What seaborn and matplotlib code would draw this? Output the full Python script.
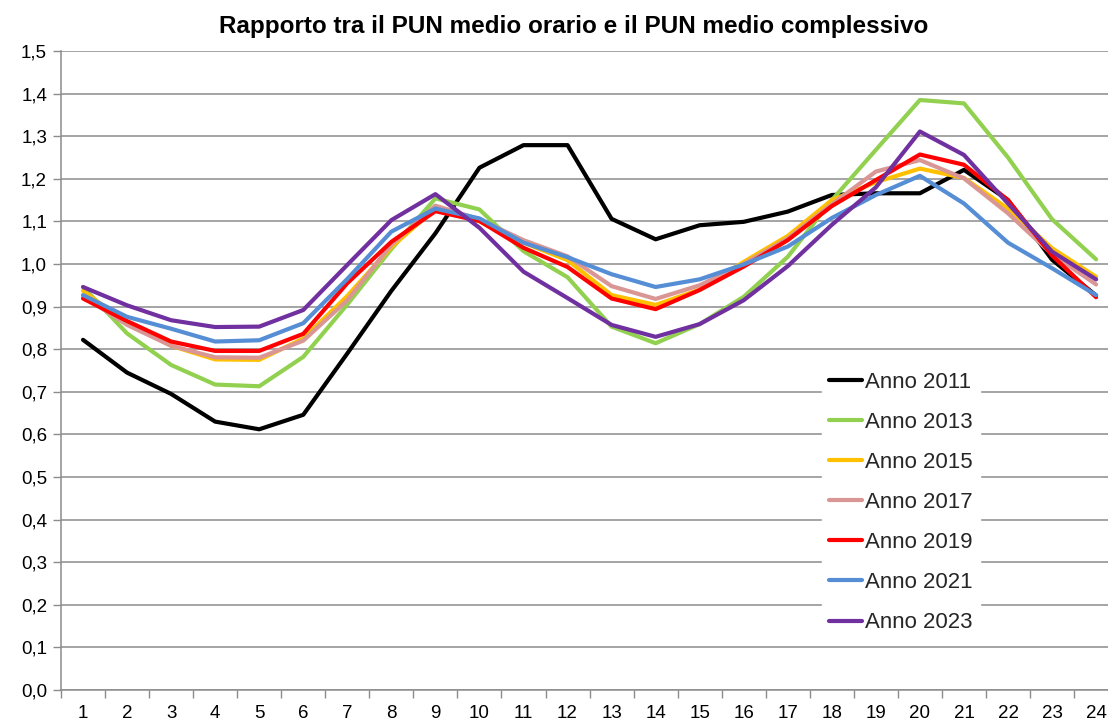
import matplotlib
matplotlib.use("Agg")
import matplotlib.pyplot as plt
import seaborn as sns
import pandas as pd
from matplotlib.ticker import FixedLocator, FuncFormatter

hours = list(range(1, 25))

anno_2011 = [0.822, 0.745, 0.695, 0.630, 0.612, 0.646, 0.790, 0.937, 1.072, 1.226, 1.279, 1.279,
             1.106, 1.058, 1.091, 1.099, 1.123, 1.162, 1.166, 1.166, 1.221, 1.150, 1.010, 0.926]
anno_2013 = [0.946, 0.837, 0.763, 0.717, 0.713, 0.782, 0.905, 1.035, 1.154, 1.128, 1.030, 0.969,
             0.853, 0.814, 0.859, 0.923, 1.017, 1.150, 1.268, 1.385, 1.377, 1.250, 1.105, 1.011]
anno_2015 = [0.937, 0.861, 0.808, 0.776, 0.775, 0.825, 0.925, 1.040, 1.130, 1.100, 1.050, 1.009,
             0.927, 0.904, 0.940, 1.005, 1.066, 1.150, 1.192, 1.224, 1.202, 1.130, 1.037, 0.970]
anno_2017 = [0.925, 0.857, 0.808, 0.781, 0.780, 0.820, 0.915, 1.045, 1.137, 1.105, 1.056, 1.018,
             0.948, 0.918, 0.950, 1.000, 1.060, 1.140, 1.217, 1.244, 1.201, 1.119, 1.023, 0.952]
anno_2019 = [0.919, 0.866, 0.818, 0.796, 0.796, 0.836, 0.955, 1.052, 1.124, 1.101, 1.038, 0.993,
             0.919, 0.894, 0.939, 0.994, 1.056, 1.136, 1.197, 1.257, 1.233, 1.150, 1.020, 0.922]
anno_2021 = [0.927, 0.876, 0.848, 0.818, 0.821, 0.861, 0.965, 1.076, 1.130, 1.107, 1.050, 1.016,
             0.976, 0.946, 0.964, 0.999, 1.041, 1.108, 1.162, 1.207, 1.142, 1.050, 0.990, 0.927]
anno_2023 = [0.946, 0.903, 0.868, 0.852, 0.853, 0.892, 0.998, 1.103, 1.164, 1.085, 0.982, 0.920,
             0.857, 0.829, 0.859, 0.915, 0.995, 1.092, 1.180, 1.311, 1.256, 1.142, 1.029, 0.964]

series_names = ["Anno 2011", "Anno 2013", "Anno 2015", "Anno 2017", "Anno 2019", "Anno 2021", "Anno 2023"]
series_values = [anno_2011, anno_2013, anno_2015, anno_2017, anno_2019, anno_2021, anno_2023]
series_colors = ["#000000", "#92D050", "#FFC000", "#D99694", "#FF0000", "#558ED5", "#7030A0"]

title_text = "Rapporto tra il PUN medio orario e il PUN medio complessivo"

rows = []
for name, vals in zip(series_names, series_values):
    for h, v in zip(hours, vals):
        rows.append({"Ora": h, "Valore": v, "Serie": name})
df = pd.DataFrame(rows)

sns.set_theme(style="white")
plt.rcParams["font.family"] = ["Liberation Sans Narrow", "Liberation Sans", "DejaVu Sans"]

W, H = 1108, 726
fig = plt.figure(figsize=(W / 100, H / 100), dpi=100)
ax = fig.add_axes([61 / W, (H - 690) / H, 1047 / W, (690 - 51) / H])

palette = dict(zip(series_names, series_colors))
sns.lineplot(data=df, x="Ora", y="Valore", hue="Serie", hue_order=series_names,
             palette=palette, linewidth=3.0, ax=ax, legend=True, zorder=3)

ax.set_xlim(0.5, 24.27)
ax.set_ylim(0, 1.5)
ax.set_xlabel("")
ax.set_ylabel("")

# y axis
yt = [i / 10 for i in range(16)]
ax.set_yticks(yt)
ax.yaxis.set_major_formatter(FuncFormatter(lambda v, p: f"{v:.1f}".replace(".", ",")))
ax.grid(axis="y", color="#8C8C8C", linewidth=1.1, zorder=0)
ax.set_axisbelow(True)

# x axis: labels at centres, tick marks at boundaries
ax.set_xticks(hours)
ax.set_xticklabels([str(h) for h in hours])
ax.xaxis.set_minor_locator(FixedLocator([h + 0.5 for h in range(0, 25)]))
ax.tick_params(axis="x", which="major", length=0, pad=11, labelsize=13.5, colors="black")
ax.tick_params(axis="x", which="minor", length=6, width=1, color="#8C8C8C", direction="out", bottom=True)
ax.tick_params(axis="y", which="major", length=6, width=1, color="#8C8C8C", direction="out",
               left=True, labelsize=13.5, pad=4, labelcolor="black")

for s in ["top", "right"]:
    ax.spines[s].set_visible(False)
for s in ["left", "bottom"]:
    ax.spines[s].set_color("#8C8C8C")
    ax.spines[s].set_linewidth(1.1)

fig.text(0.5 + 20 / W, (H - 26) / H, title_text, ha="center", va="center",
         fontsize=17.5, fontweight="bold", color="black")

handles, labels = ax.get_legend_handles_labels()
leg = ax.legend(handles, labels, loc="upper left",
                bbox_to_anchor=(822 / W, (H - 365) / H), bbox_transform=fig.transFigure,
                frameon=True, fancybox=False, framealpha=1, facecolor="white", edgecolor="white",
                fontsize=16, handlelength=1.5, handletextpad=0.15, labelspacing=0.86,
                borderpad=0.3, borderaxespad=0)
leg.set_zorder(5)
for line in leg.get_lines():
    line.set_linewidth(3.0)

fig.savefig("out.png", dpi=100, facecolor="white")
